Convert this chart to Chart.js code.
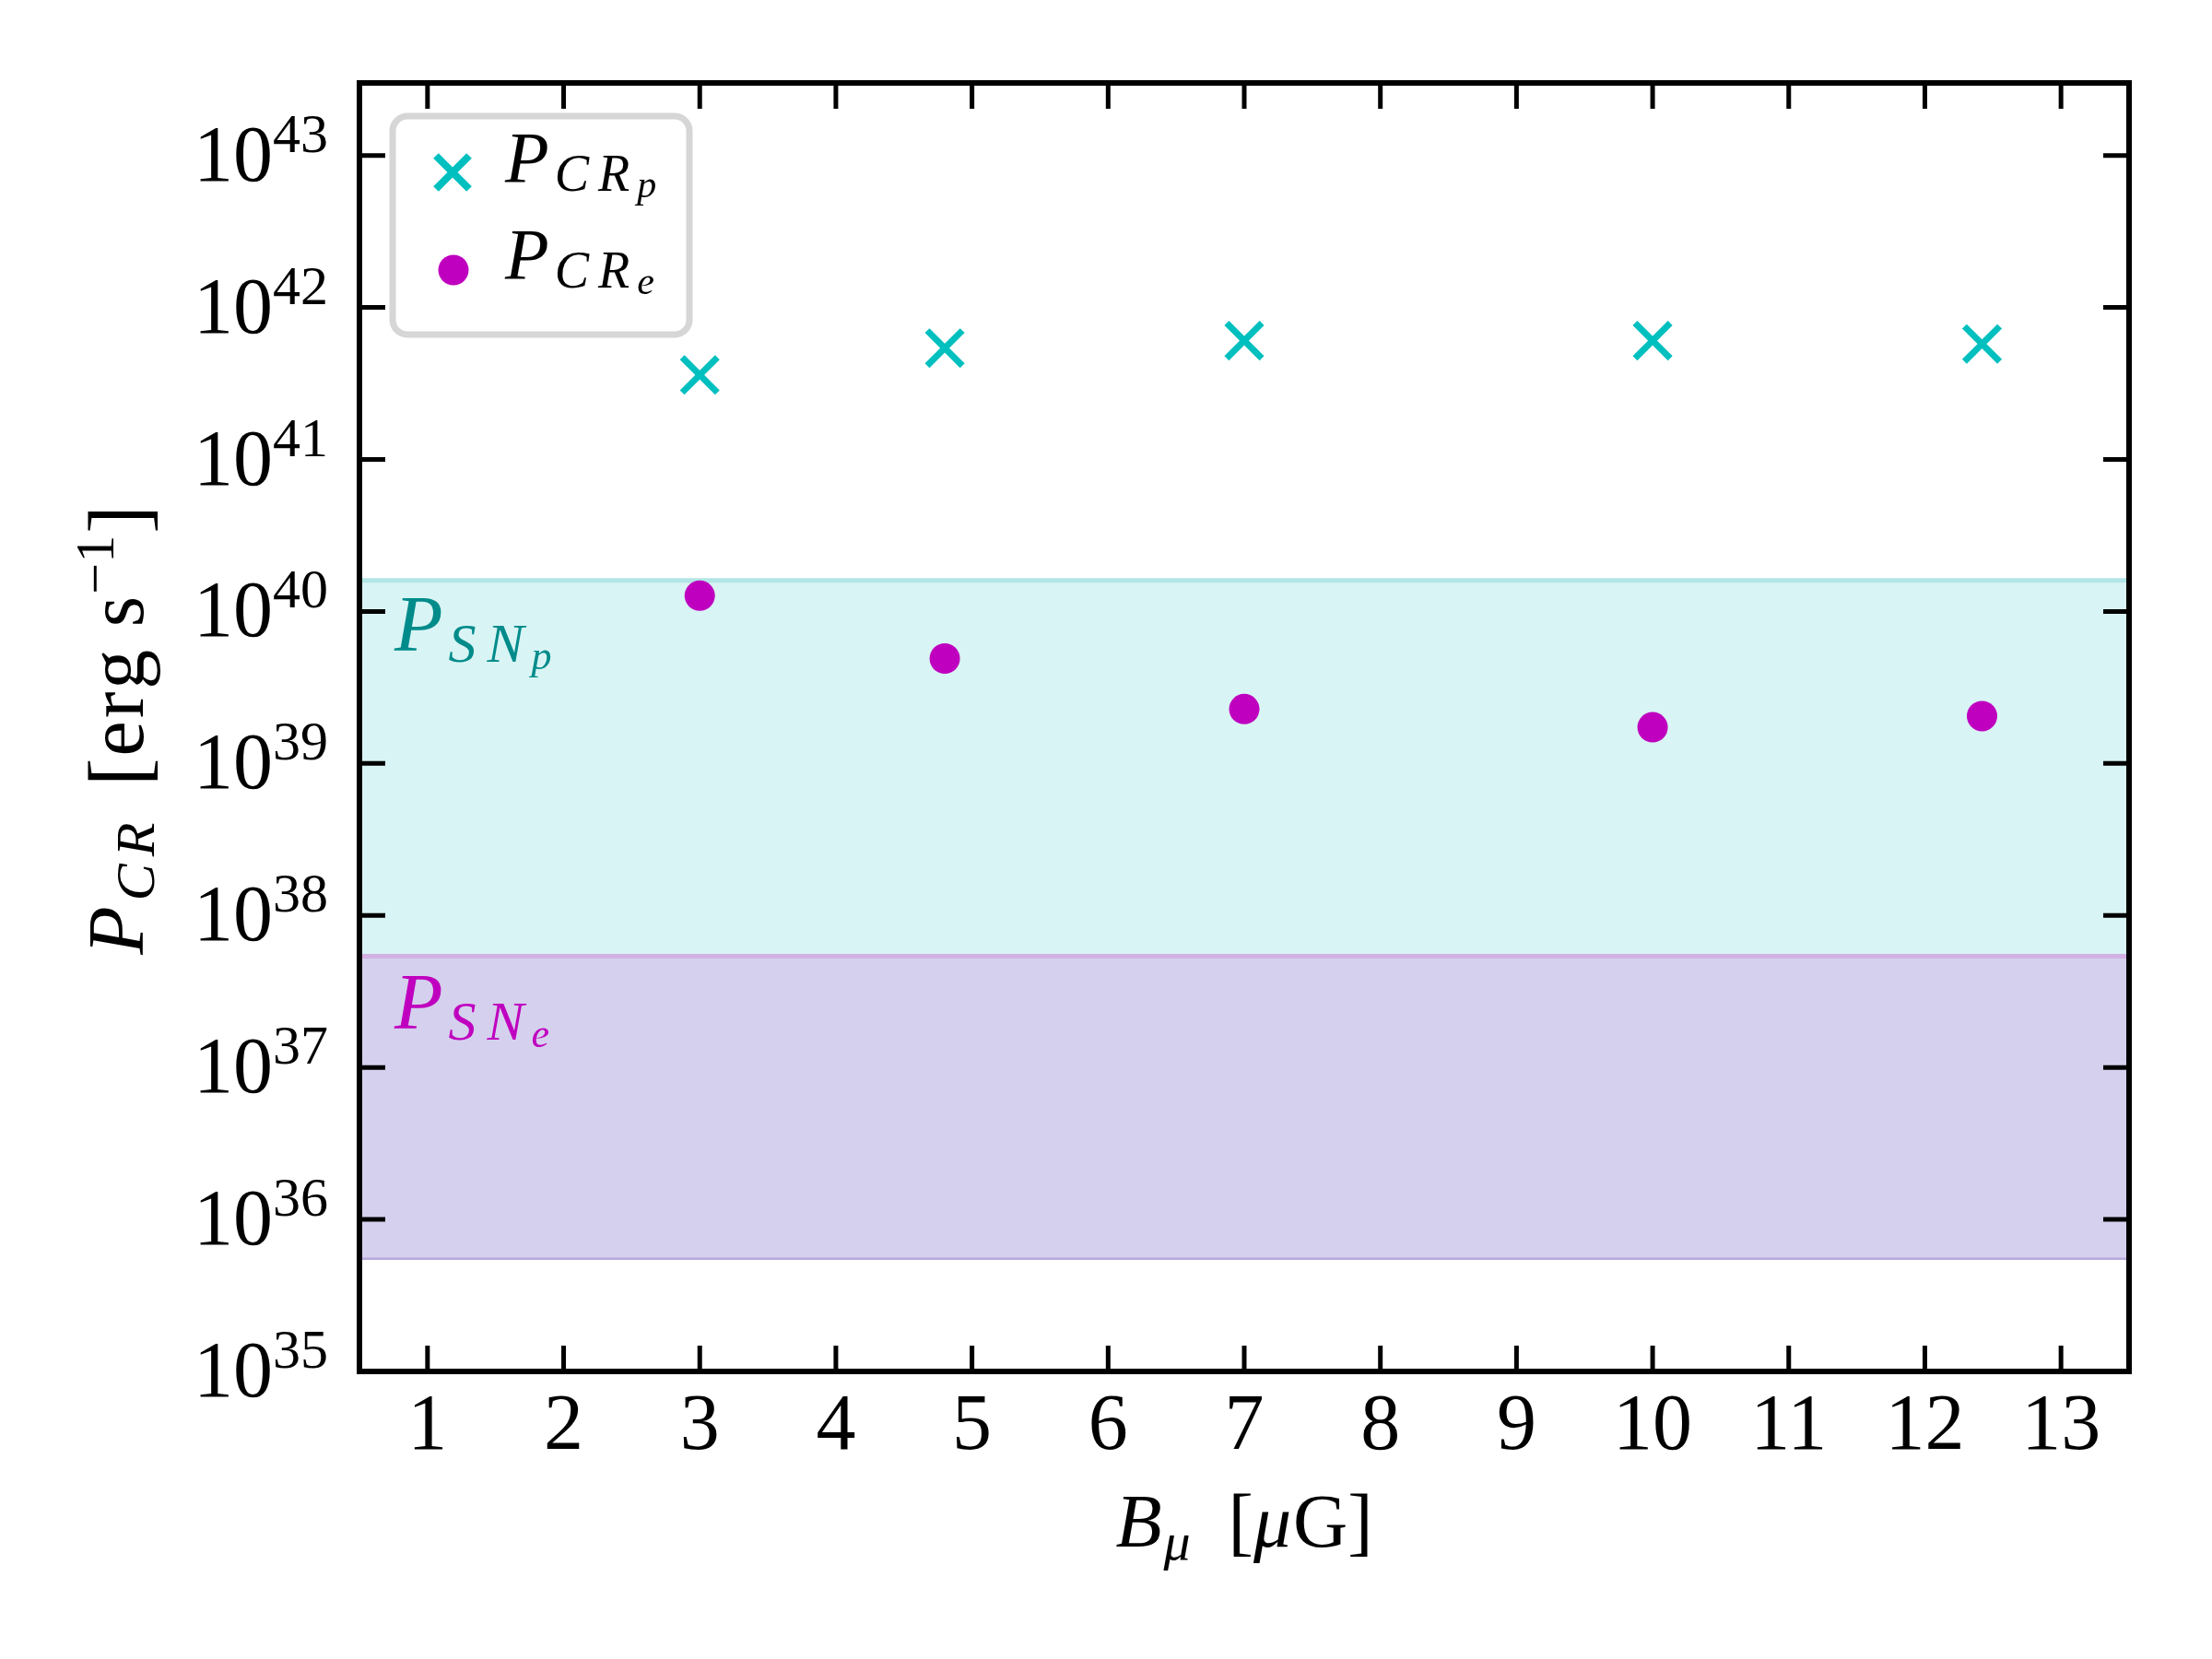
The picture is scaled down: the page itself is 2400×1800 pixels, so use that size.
<!doctype html>
<html lang="en">

<head>
  <meta charset="utf-8">
  <title>P_CR vs B</title>
  <script src="https://cdn.jsdelivr.net/npm/chart.js@4.4.1/dist/chart.umd.min.js"></script>
  <style type="text/css">
    body {
      margin: 0;
      background: white;
    }
  </style>
</head>

<body>
  <canvas id="myChart" width="2400" height="1800"></canvas>

  <script>
    // data
    const bField = [3, 4.8, 7, 10, 12.42];
    const pCRp = [3.6e41, 5.4e41, 6.05e41, 6.05e41, 5.75e41];
    const pCRe = [1.27e40, 4.9e39, 2.28e39, 1.73e39, 2.05e39];
    // [bottom, top] of the shaded bands
    const snpBand = [5.4e37, 1.6e40];
    const sneBand = [5.6e35, 5.4e37];
    const xRange = [0.5, 13.5];
    const xTicks = [1, 2, 3, 4, 5, 6, 7, 8, 9, 10, 11, 12, 13];
    const yTickExps = [35, 36, 37, 38, 39, 40, 41, 42, 43];

    const FONT = '"Liberation Serif", "DejaVu Serif", serif';
    const CYAN = '#00bfbf';
    const MAGENTA = '#bf00bf';

    function pts(ys) {
      return ys.map((y, i) => ({ x: bField[i], y: y }));
    }
    function hline(v) {
      return [{ x: xRange[0], y: v }, { x: xRange[1], y: v }];
    }

    // text pieces: [text, italic, size, dy, extra gap after]
    function runsWidth(ctx, runs) {
      let w = 0;
      runs.forEach(r => {
        ctx.font = (r[1] ? 'italic ' : '') + r[2] + 'px ' + FONT;
        w += ctx.measureText(r[0]).width + (r[4] || 0);
      });
      return w;
    }
    function drawRuns(ctx, x, y, runs) {
      ctx.textAlign = 'left';
      ctx.textBaseline = 'alphabetic';
      runs.forEach(r => {
        ctx.font = (r[1] ? 'italic ' : '') + r[2] + 'px ' + FONT;
        ctx.fillText(r[0], x, y + r[3]);
        x += ctx.measureText(r[0]).width + (r[4] || 0);
      });
      return x;
    }

    const decorations = {
      id: 'decorations',
      afterDatasetsDraw(chart) {
        const ctx = chart.ctx;
        const a = chart.chartArea;
        const xs = chart.scales.x;
        const ys = chart.scales.y;
        ctx.save();

        // band labels
        ctx.fillStyle = '#008b8b';
        drawRuns(ctx, a.left + 38, ys.getPixelForValue(snpBand[1]) + 76, [
          ['P', true, 86, 0, 6], ['S', true, 60, 12, 12], ['N', true, 60, 12, 8], ['p', true, 44, 20]
        ]);
        ctx.fillStyle = MAGENTA;
        drawRuns(ctx, a.left + 38, ys.getPixelForValue(sneBand[1]) + 79, [
          ['P', true, 86, 0, 6], ['S', true, 60, 12, 12], ['N', true, 60, 12, 8], ['e', true, 44, 20]
        ]);

        // frame + inward ticks on all sides
        ctx.strokeStyle = 'black';
        ctx.lineWidth = 6;
        ctx.strokeRect(a.left, a.top, a.right - a.left, a.bottom - a.top);
        ctx.lineWidth = 5;
        ctx.beginPath();
        xTicks.forEach(t => {
          const px = xs.getPixelForValue(t);
          ctx.moveTo(px, a.bottom); ctx.lineTo(px, a.bottom - 28);
          ctx.moveTo(px, a.top); ctx.lineTo(px, a.top + 28);
        });
        yTickExps.forEach(e => {
          const py = ys.getPixelForValue(Math.pow(10, e));
          ctx.moveTo(a.left, py); ctx.lineTo(a.left + 28, py);
          ctx.moveTo(a.right, py); ctx.lineTo(a.right - 28, py);
        });
        ctx.stroke();

        // tick labels
        ctx.fillStyle = 'black';
        ctx.textBaseline = 'alphabetic';
        xTicks.forEach(t => {
          ctx.font = '86px ' + FONT;
          ctx.textAlign = 'center';
          ctx.fillText(String(t), xs.getPixelForValue(t), a.bottom + 84);
        });
        yTickExps.forEach(e => {
          const py = ys.getPixelForValue(Math.pow(10, e));
          const runs = [['10', false, 86, 27], [String(e), false, 60, -4]];
          const w = runsWidth(ctx, runs);
          drawRuns(ctx, a.left - 34 - w, py, runs);
        });

        // axis titles
        const xRuns = [['B', true, 82, 0, 2], ['\u03bc', true, 58, 14], ['  [', false, 82, 0],
                       ['\u03bc', true, 82, 0, 2], ['G]', false, 82, 0]];
        const xw = runsWidth(ctx, xRuns);
        drawRuns(ctx, (a.left + a.right) / 2 - xw / 2, a.bottom + 190, xRuns);

        const yRuns = [['P', true, 86, 0, 6], ['C', true, 60, 12, 8], ['R', true, 60, 12, 4],
                       [' ', false, 86, 0, 14], ['[', false, 92, 4, 2], ['e', false, 86, 0, 3],
                       ['r', false, 86, 0, 3], ['g', false, 86, 0, 3], [' s', false, 86, 0, 2],
                       ['\u22121', false, 60, -32, 2], [']', false, 92, 4]];
        const yw = runsWidth(ctx, yRuns);
        ctx.save();
        ctx.translate(155, (a.top + a.bottom) / 2 + 3);
        ctx.rotate(-Math.PI / 2);
        drawRuns(ctx, -yw / 2, 0, yRuns);
        ctx.restore();

        // legend
        const lx = 426, ly = 126, lw = 322, lh = 237, r = 16;
        ctx.fillStyle = 'rgba(255,255,255,0.8)';
        ctx.strokeStyle = '#d6d6d6';
        ctx.lineWidth = 7;
        ctx.beginPath();
        ctx.roundRect(lx, ly, lw, lh, r);
        ctx.fill();
        ctx.stroke();

        // cross marker
        ctx.strokeStyle = CYAN;
        ctx.lineWidth = 8;
        ctx.beginPath();
        ctx.moveTo(491 - 18, 187 - 18); ctx.lineTo(491 + 18, 187 + 18);
        ctx.moveTo(491 - 18, 187 + 18); ctx.lineTo(491 + 18, 187 - 18);
        ctx.stroke();
        // dot marker
        ctx.fillStyle = MAGENTA;
        ctx.beginPath();
        ctx.arc(492, 293, 16.5, 0, Math.PI * 2);
        ctx.fill();

        ctx.fillStyle = 'black';
        drawRuns(ctx, 548, 197, [['P', true, 78, 0, 6], ['C', true, 56, 10, 10], ['R', true, 56, 10, 8], ['p', true, 42, 17]]);
        drawRuns(ctx, 548, 302, [['P', true, 78, 0, 6], ['C', true, 56, 10, 10], ['R', true, 56, 10, 8], ['e', true, 42, 17]]);

        ctx.restore();
      }
    };

    const ctx = document.getElementById('myChart').getContext('2d');
    const myChart = new Chart(ctx, {
      type: 'scatter',
      data: {
        datasets: [
          {
            label: 'P_CR_p',
            data: pts(pCRp),
            pointStyle: 'crossRot',
            pointRadius: 27,
            pointHoverRadius: 27,
            borderColor: CYAN,
            borderWidth: 7,
            order: 0
          },
          {
            label: 'P_CR_e',
            data: pts(pCRe),
            pointStyle: 'circle',
            pointRadius: 16.5,
            pointHoverRadius: 16.5,
            backgroundColor: MAGENTA,
            borderWidth: 0,
            order: 0
          },
          {
            label: 'SNp top',
            type: 'line',
            data: hline(snpBand[1]),
            borderColor: '#b3e6e6',
            borderWidth: 5,
            backgroundColor: '#d9f4f4',
            pointRadius: 0,
            fill: '+1',
            order: 3
          },
          {
            label: 'SNp bottom',
            type: 'line',
            data: hline(snpBand[0]),
            borderWidth: 0,
            pointRadius: 0,
            fill: false,
            order: 4
          },
          {
            label: 'SNe top',
            type: 'line',
            data: hline(sneBand[1]),
            borderColor: '#d3b1e3',
            borderWidth: 5,
            backgroundColor: '#d5d0ed',
            pointRadius: 0,
            fill: '+1',
            order: 1
          },
          {
            label: 'SNe bottom',
            type: 'line',
            data: hline(sneBand[0]),
            borderColor: '#b8a9dd',
            borderWidth: 5,
            pointRadius: 0,
            fill: false,
            order: 2
          }
        ]
      },
      options: {
        responsive: false,
        animation: false,
        devicePixelRatio: 1,
        layout: {
          padding: { left: 390, right: 90, top: 90, bottom: 312 }
        },
        plugins: {
          legend: { display: false },
          tooltip: { enabled: false }
        },
        scales: {
          x: {
            type: 'linear',
            min: xRange[0],
            max: xRange[1],
            display: false
          },
          y: {
            type: 'logarithmic',
            min: 1e35,
            max: 3e43,
            display: false
          }
        }
      },
      plugins: [decorations]
    });
  </script>
</body>

</html>
